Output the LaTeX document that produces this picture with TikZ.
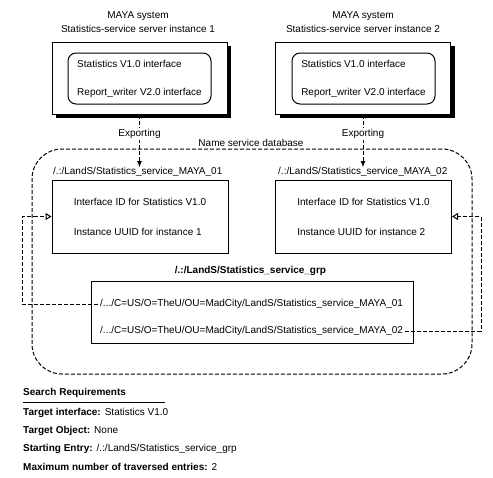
\documentclass[tikz,border=0pt]{standalone}
\usepackage{fontspec}
\setmainfont{Liberation Sans}
\usetikzlibrary{arrows.meta,shadows}
\begin{document}
\begin{tikzpicture}[x=1pt,y=-1pt,
  every node/.style={font=\fontsize{10}{12}\selectfont},
  bold/.style={font=\fontsize{10}{12}\selectfont\bfseries},
  srv/.style={draw,fill=white,line width=1pt,minimum width=175pt,minimum height=72pt,inner sep=0pt,
    drop shadow={shadow xshift=4pt,shadow yshift=-4pt,fill=black,opacity=1}},
  ibox/.style={draw,line width=1pt,rounded corners=8pt,minimum width=143pt,minimum height=51pt,inner sep=0pt,align=left},
  nsbox/.style={draw,line width=1pt,minimum width=176pt,minimum height=73pt,inner sep=0pt,align=left},
  conn/.style={line width=1pt,dash pattern=on 4pt off 2pt},
  exparrow/.style={conn,-{Latex[length=6pt,width=5pt]}},
  backarrow/.style={conn,-{Triangle[open,length=6pt,width=7pt,fill=white]}},
  plain/.style={anchor=west,inner sep=0pt}
]
\useasboundingbox[fill=white] (0,0) rectangle (493,477);

% name service database
\node[draw,conn,rounded corners=30pt,minimum width=440pt,minimum height=225pt] (ns) at (252,261.5) {};
\node[anchor=south,inner sep=1pt] (nsl) at (251,148) {Name service database};

% servers
\node[align=center,inner sep=0pt] (t1) at (138,22) {MAYA system\\[2pt]Statistics-service server instance 1};
\node[align=center,inner sep=0pt] (t2) at (363,22) {MAYA system\\[2pt]Statistics-service server instance 2};
\node[srv] (s1) at (139.5,78) {};
\node[srv] (s2) at (363,78) {};
\node[ibox] (i1) at (139.5,78.5) {Statistics V1.0 interface\\[16pt]Report\_writer V2.0 interface};
\node[ibox] (i2) at (363.5,78.5) {Statistics V1.0 interface\\[16pt]Report\_writer V2.0 interface};

% namespace entries
\node[plain] (l1) at (53,172) {/.:/LandS/Statistics\_service\_MAYA\_01};
\node[plain] (l2) at (278,172) {/.:/LandS/Statistics\_service\_MAYA\_02};
\node[nsbox] (b1) at (140,216.5) {Interface ID for Statistics V1.0\\[18pt]Instance UUID for instance 1};
\node[nsbox] (b2) at (363.5,216.5) {Interface ID for Statistics V1.0\\[18pt]Instance UUID for instance 2};

\draw[exparrow] (s1.south) -- (s1.south |- l1.north) node[pos=0.37,fill=white,inner sep=1pt] {Exporting};
\draw[exparrow] (s2.south) -- (s2.south |- l2.north) node[pos=0.37,fill=white,inner sep=1pt] {Exporting};

% group
\node[bold] (gt) at (250.5,271) {/.:/LandS/Statistics\_service\_grp};
\node[draw,line width=1pt,minimum width=322pt,minimum height=62pt] (g) at (252,312) {};
\node[anchor=west,inner sep=2pt] (g1) at (98,304) {/.../C=US/O=TheU/OU=MadCity/LandS/Statistics\_service\_MAYA\_01};
\node[anchor=west,inner sep=2pt] (g2) at (98,331) {/.../C=US/O=TheU/OU=MadCity/LandS/Statistics\_service\_MAYA\_02};

\draw[backarrow] (g1.west) -| ([xshift=-29pt]b1.west) -- (b1.west);
\draw[backarrow] (g2.east) -| ([xshift=29pt]b2.east) -- (b2.east);

% search requirements
\node[plain,bold] (sr) at (23,393) {Search Requirements};
\draw[line width=1pt] (23,402) -- (165,402);
\node[plain] (r1) at (23,413) {\textbf{Target interface:}\hspace{4pt}Statistics V1.0};
\node[plain] (r2) at (23,431) {\textbf{Target Object:}\hspace{4pt}None};
\node[plain] (r3) at (23,449) {\textbf{Starting Entry:}\hspace{4pt}/.:/LandS/Statistics\_service\_grp};
\node[plain] (r4) at (23,467) {\textbf{Maximum number of traversed entries:}\hspace{4pt}2};
\end{tikzpicture}
\end{document}
